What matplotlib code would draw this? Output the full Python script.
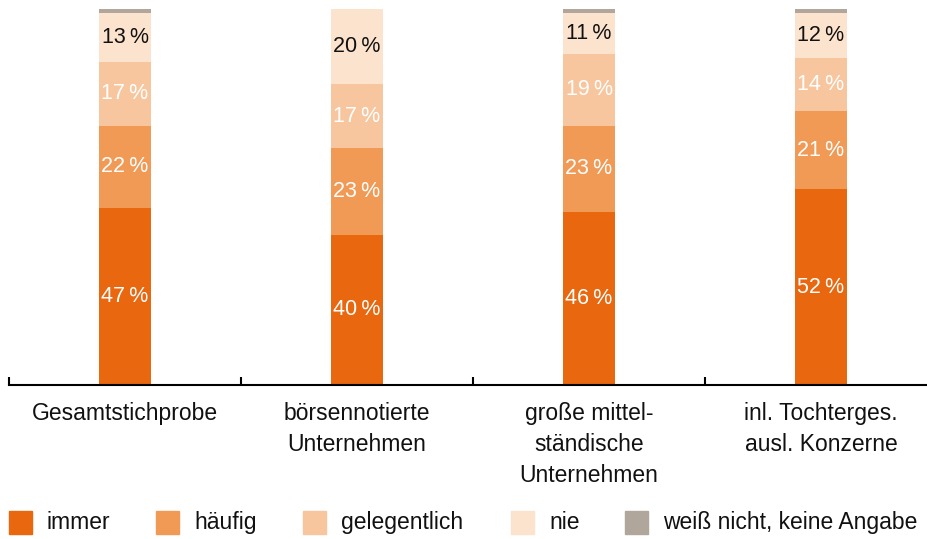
import matplotlib
matplotlib.use("Agg")
import matplotlib.pyplot as plt
from matplotlib.patches import Rectangle

plt.rcParams['font.family'] = ['Liberation Sans', 'DejaVu Sans']

categories = ["Gesamtstichprobe", "börsennotierte\nUnternehmen",
              "große mittel-\nständische\nUnternehmen", "inl. Tochterges.\nausl. Konzerne"]
series = ["immer", "häufig", "gelegentlich", "nie", "weiß nicht, keine Angabe"]
immer = [47, 40, 46, 52]
haeufig = [22, 23, 23, 21]
gelegentlich = [17, 17, 19, 14]
nie = [13, 20, 11, 12]
keine_angabe = [1, 0, 1, 1]

colors = ["#E9670F", "#F09A56", "#F7C69E", "#FCE3CD", "#B1A69C"]
label_colors = ["white", "white", "white", "#111111", None]

fig = plt.figure(figsize=(9.27, 5.39), dpi=100)
W, H = 927, 539
ax = fig.add_axes([9 / W, 154 / H, 928 / W, 376 / H])

x = list(range(len(categories)))
bottoms = [0] * len(categories)
for vals, col, lcol in zip([immer, haeufig, gelegentlich, nie, keine_angabe], colors, label_colors):
    ax.bar(x, vals, width=0.228, bottom=bottoms, color=col, linewidth=0)
    if lcol:
        for i, v in enumerate(vals):
            ax.text(i, bottoms[i] + v / 2, f"{v}\u2009%", ha="center", va="center",
                    color=lcol, fontsize=15.5)
    bottoms = [b + v for b, v in zip(bottoms, vals)]

ax.set_xlim(-0.5, len(categories) - 0.5)
ax.set_ylim(0, 100)
for s in ["top", "right", "left"]:
    ax.spines[s].set_visible(False)
ax.spines["bottom"].set_linewidth(1.5)
ax.set_yticks([])
ax.set_xticks(x)
ax.set_xticklabels(categories, fontsize=16.5, color="#111111", linespacing=1.45)
ax.tick_params(axis="x", which="major", length=0, pad=12)
ax.set_xticks([i - 0.5 for i in range(len(categories) + 1)], minor=True)
ax.tick_params(axis="x", which="minor", direction="in", length=5.5, width=1.5)

# legend
box_x = [9, 156, 303, 511, 625]
for bx, name, col in zip(box_x, series, colors):
    fig.patches.append(Rectangle((bx / W, 5 / H), 23 / W, 23 / H, color=col,
                                 transform=fig.transFigure, figure=fig))
    fig.text((bx + 38) / W, 16.5 / H, name, fontsize=16.5, va="center", color="#111111")

fig.savefig("out.png", dpi=100)
